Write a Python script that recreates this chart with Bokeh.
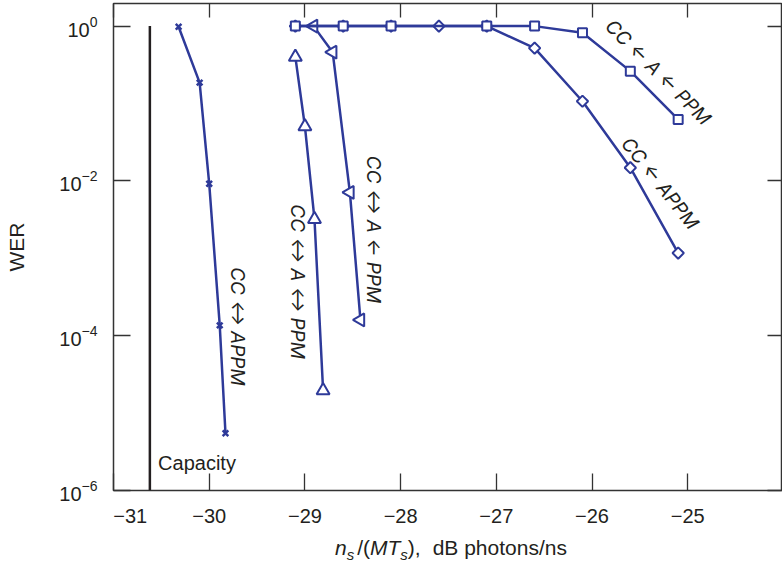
import math
from bokeh.plotting import figure
from bokeh.layouts import column
from bokeh.models import Range1d, FixedTicker, LogAxis, LinearAxis, Label, Div
from bokeh.embed import file_html
from bokeh.resources import INLINE

# ---------------- data ----------------
x_ticks = [-31, -30, -29, -28, -27, -26, -25, -24]
x_tick_labels = ["\u2007\u2007\u2007\u221231", "\u221230", "\u221229", "\u221228", "\u221227",
                 "\u221226", "\u221225", "\u221224"]
y_ticks = [1e-6, 1e-4, 1e-2, 1.0]

capacity_x = [-30.62, -30.62]
capacity_y = [1.0, 1e-6]

appm_bi_x = [-30.32, -30.10, -30.00, -29.89, -29.83]
appm_bi_y = [0.98, 0.186, 0.0092, 1.36e-4, 5.5e-6]

ppm_bi_x = [-29.10, -29.00, -28.90, -28.81]
ppm_bi_y = [0.40, 0.0506, 0.0032, 1.96e-5]

ppm_half_x = [-28.91, -28.71, -28.53, -28.42]
ppm_half_y = [1.0, 0.46, 0.0071, 1.6e-4]

appm_uni_x = [-29.1, -28.6, -28.1, -27.6, -27.1, -26.6, -26.1, -25.6, -25.1]
appm_uni_y = [1.0, 1.0, 1.0, 1.0, 1.0, 0.52, 0.107, 0.0148, 0.00117]

ppm_uni_x = [-29.1, -28.6, -28.1, -27.1, -26.6, -26.1, -25.6, -25.1]
ppm_uni_y = [1.0, 1.0, 1.0, 1.0, 1.0, 0.82, 0.262, 0.0623]

curve_labels = ["CC \u2194 APPM", "CC \u2194 A \u2194 PPM", "CC \u2194 A \u2190 PPM",
                "CC \u2190 A \u2190 PPM", "CC \u2190 APPM"]
curve_label_x = [-29.70, -29.08, -28.28, -25.31, -25.29]
curve_label_y = [1.32e-4, 5.0e-4, 2.36e-3, 0.252, 9.3e-3]
curve_label_angle = [-math.pi / 2, -math.pi / 2, -math.pi / 2, -0.785, -0.90]

# ---------------- style ----------------
BLUE = "#2E3A99"
INK = "#231F20"
AX = "#333333"
FONT = "Liberation Sans"

p = figure(width=782, height=530,
           x_range=Range1d(-31, -24.01), y_range=Range1d(1e-6, 1.96),
           y_axis_type="log", output_backend="svg", toolbar_location=None,
           min_border_left=113, min_border_right=0, min_border_top=3, min_border_bottom=40)
p.grid.visible = False
p.outline_line_color = AX
p.outline_line_width = 1.5
p.background_fill_color = "white"
p.border_fill_color = "white"

# bottom axis
xa = p.xaxis[0]
xa.ticker = FixedTicker(ticks=x_ticks, minor_ticks=[])
xa.major_label_overrides = dict(zip(x_ticks, x_tick_labels))
xa.major_tick_in = 17
xa.major_tick_out = 0
xa.major_tick_line_color = AX
xa.major_tick_line_width = 1.3
xa.minor_tick_line_color = None
xa.axis_line_color = None
xa.major_label_standoff = 14
xa.major_label_text_font = FONT
xa.major_label_text_font_size = "20px"
xa.major_label_text_color = INK

# left axis
ya = p.yaxis[0]
ya.ticker = FixedTicker(ticks=y_ticks, minor_ticks=[])
ya.major_tick_in = 17
ya.major_tick_out = 0
ya.major_tick_line_color = AX
ya.major_tick_line_width = 1.3
ya.minor_tick_line_color = None
ya.axis_line_color = None
ya.major_label_standoff = 16
ya.major_label_text_font = FONT
ya.major_label_text_font_size = "20px"
ya.major_label_text_color = INK
ya.axis_label = "WER"
ya.axis_label_text_font = FONT
ya.axis_label_text_font_size = "21px"
ya.axis_label_text_font_style = "normal"
ya.axis_label_text_color = INK
ya.axis_label_standoff = 28

# top axis (ticks only)
top = LinearAxis(ticker=FixedTicker(ticks=x_ticks, minor_ticks=[]),
                 major_tick_in=14, major_tick_out=0, major_tick_line_color=AX,
                 major_tick_line_width=1.3, minor_tick_line_color=None,
                 axis_line_color=None, major_label_standoff=0,
                 major_label_text_color=None)
p.add_layout(top, "above")

# right axis (ticks only)
right = LogAxis(ticker=FixedTicker(ticks=y_ticks, minor_ticks=[]),
                major_tick_in=15, major_tick_out=0, major_tick_line_color=AX,
                major_tick_line_width=1.3, minor_tick_line_color=None,
                axis_line_color=None, major_label_standoff=0,
                major_label_text_color=None)
p.add_layout(right, "right")

# capacity
p.line(capacity_x, capacity_y, line_color=INK, line_width=2.5)

# curves
p.line(appm_bi_x, appm_bi_y, line_color=BLUE, line_width=2.5)
p.scatter(appm_bi_x, appm_bi_y, marker="x", size=8, line_color=BLUE, line_width=2.5)

p.line(ppm_bi_x, ppm_bi_y, line_color=BLUE, line_width=2.5)
p.scatter(ppm_bi_x, ppm_bi_y, marker="triangle", size=13, line_color=BLUE,
          line_width=2, fill_color="white")

p.line(ppm_half_x, ppm_half_y, line_color=BLUE, line_width=2.5)
p.scatter(ppm_half_x, ppm_half_y, marker="triangle", size=13, angle=math.pi / 2,
          line_color=BLUE, line_width=2, fill_color="white")

p.line(appm_uni_x, appm_uni_y, line_color=BLUE, line_width=2.5)
p.scatter(appm_uni_x, appm_uni_y, marker="square", size=8, angle=math.pi / 4,
          line_color=BLUE, line_width=2, fill_color="white")

p.line(ppm_uni_x, ppm_uni_y, line_color=BLUE, line_width=2.5)
p.scatter(ppm_uni_x, ppm_uni_y, marker="square", size=9,
          line_color=BLUE, line_width=2, fill_color="white")

# curve labels
for t, lx, ly, la in zip(curve_labels, curve_label_x, curve_label_y, curve_label_angle):
    p.add_layout(Label(x=lx, y=ly, text=t, angle=la, text_align="center",
                       text_baseline="middle", text_font="Inter, DejaVu Sans",
                       text_font_size="19px", text_font_style="italic", text_color=INK))

p.add_layout(Label(x=-30.534, y=2.24e-6, text="Capacity", text_align="left",
                   text_baseline="alphabetic", text_font=FONT, text_font_size="20px",
                   text_color=INK))

# x-axis title with italics and subscripts
sub = "font-size:15px;vertical-align:-5px;line-height:0"
x_title_html = (
    "<div style=\"font-family:'Liberation Sans';font-size:21px;line-height:24px;"
    "color:#231F20;white-space:nowrap;padding-top:6px;padding-left:335px\">"
    "<i>n</i><sub style='" + sub + "'><i>s</i></sub>"
    "<span style='margin-left:3px'>/(</span><i>MT</i>"
    "<sub style='" + sub + "'><i>s</i></sub>),"
    "<span style='margin-left:12px'>dB photons/ns</span></div>"
)
x_title = Div(text=x_title_html, width=782, height=37, margin=(0, 0, 0, 0))

layout = column(p, x_title, spacing=0)

open("out.html", "w").write(file_html(layout, INLINE))
